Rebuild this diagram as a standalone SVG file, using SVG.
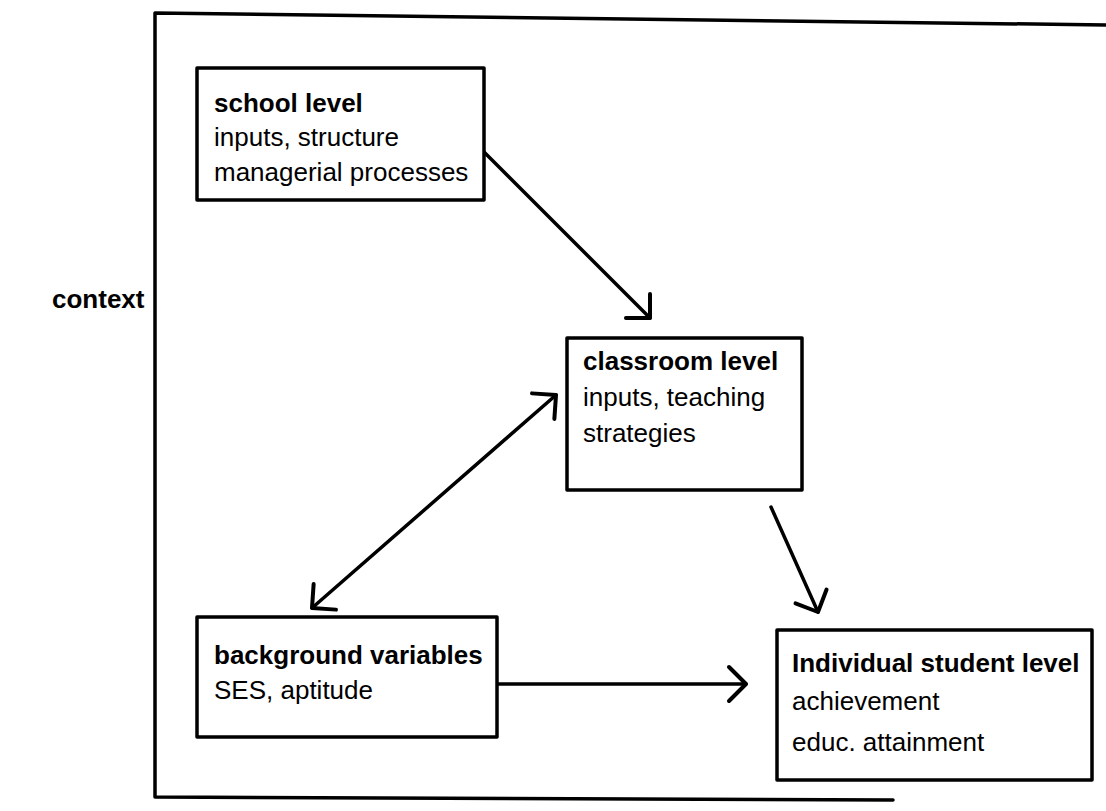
<svg xmlns="http://www.w3.org/2000/svg" width="1106" height="811" viewBox="0 0 1106 811">
  <style>
    .frame { fill: none; stroke: #000; stroke-width: 3.5; stroke-linecap: round; stroke-linejoin: round; }
    .box { fill: #fff; stroke: #000; stroke-width: 3.5; stroke-linejoin: round; }
    .conn { fill: none; stroke: #000; stroke-width: 3.5; stroke-linecap: round; }
    .t { font-family: "Liberation Sans", Arial, sans-serif; font-size: 26px; fill: #000; }
    .b { font-weight: bold; }
  </style>
  <defs>
    <marker id="head" markerUnits="userSpaceOnUse" viewBox="-20 -20 24 40" refX="0" refY="0" markerWidth="24" markerHeight="40" orient="auto-start-reverse" overflow="visible">
      <path d="M -17 -17 L 0 0 L -17 17" fill="none" stroke="#000" stroke-width="4" stroke-linecap="round" stroke-linejoin="round"/>
    </marker>
  </defs>
  <rect width="1106" height="811" fill="#fff"/>
  <g id="frame">
    <path class="frame" d="M 1106 25 L 155 13 L 155 797 L 893 800"/>
  </g>
  <text id="context" class="t b" x="52" y="308">context</text>
  <g id="connectors">
    <line class="conn" x1="480" y1="148" x2="650" y2="318" marker-end="url(#head)"/>
    <line class="conn" x1="556" y1="395" x2="312" y2="608" marker-start="url(#head)" marker-end="url(#head)"/>
    <line class="conn" x1="771" y1="507" x2="818" y2="612" marker-end="url(#head)"/>
    <line class="conn" x1="497" y1="684" x2="746" y2="684" marker-end="url(#head)"/>
  </g>
  <g id="school">
    <rect class="box" x="197" y="68" width="287" height="132"/>
    <text class="t b" x="214" y="112">school level</text>
    <text class="t" x="214" y="146">inputs, structure</text>
    <text class="t" x="214" y="181">managerial processes</text>
  </g>
  <g id="classroom">
    <rect class="box" x="567" y="338" width="235" height="152"/>
    <text class="t b" x="583" y="370">classroom level</text>
    <text class="t" x="583" y="406">inputs, teaching</text>
    <text class="t" x="583" y="442">strategies</text>
  </g>
  <g id="background">
    <rect class="box" x="197" y="617" width="300" height="120"/>
    <text class="t b" x="214" y="664">background variables</text>
    <text class="t" x="214" y="699">SES, aptitude</text>
  </g>
  <g id="individual">
    <rect class="box" x="777" y="630" width="315" height="150"/>
    <text class="t b" x="792" y="672">Individual student level</text>
    <text class="t" x="792" y="710">achievement</text>
    <text class="t" x="792" y="751">educ. attainment</text>
  </g>
</svg>
